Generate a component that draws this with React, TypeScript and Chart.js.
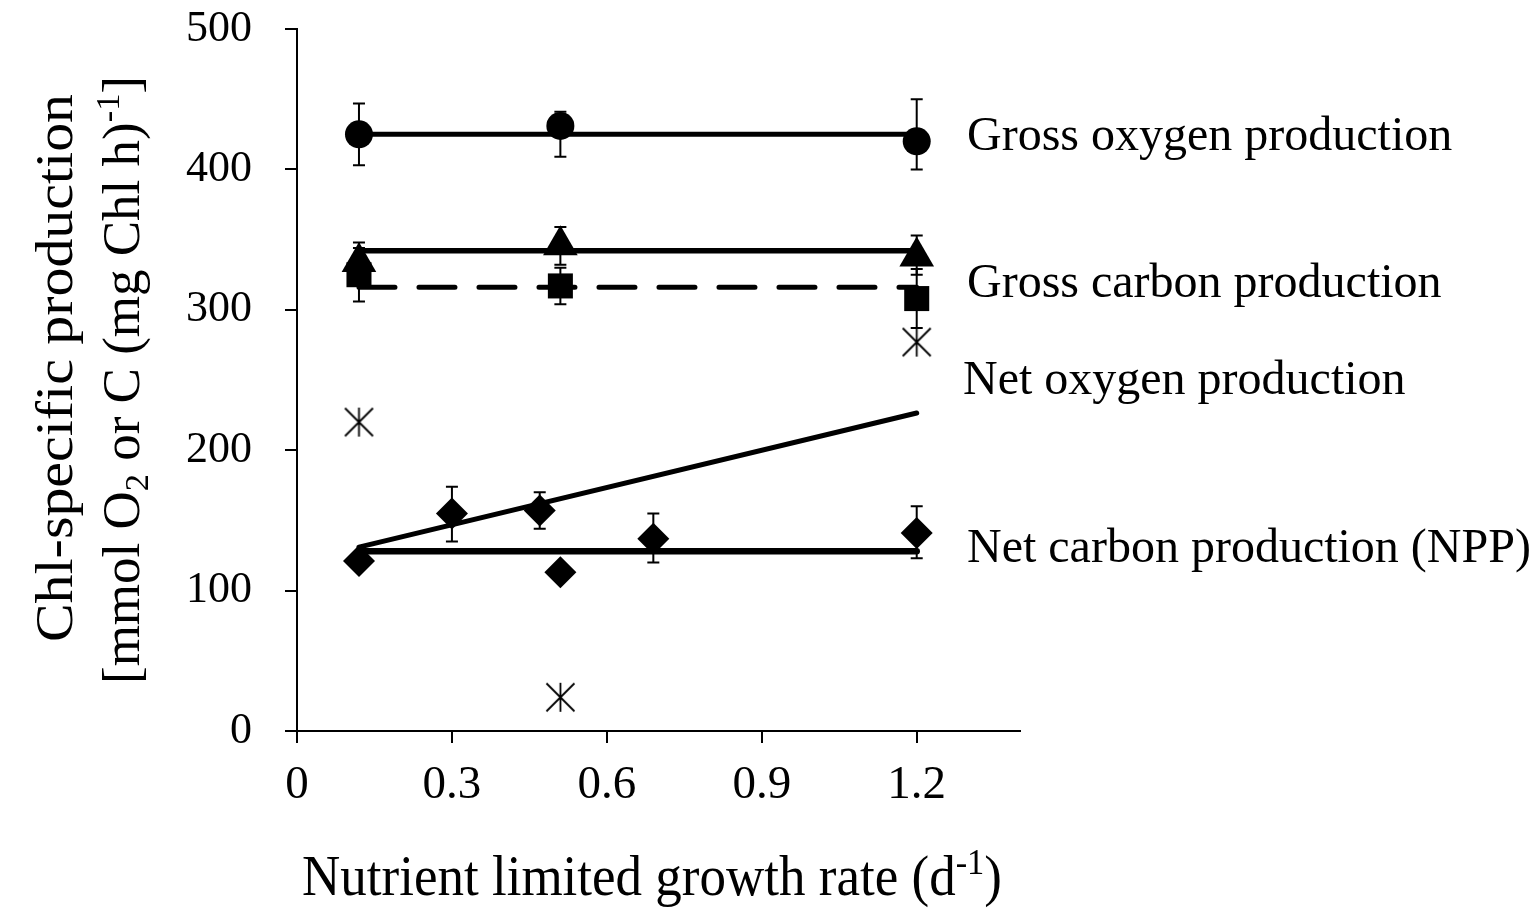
import React, { useEffect, useRef } from 'react';
import { Chart, registerables } from 'chart.js';

Chart.register(...registerables);

// ---------- data ----------
const X_TICKS = [0, 0.3, 0.6, 0.9, 1.2];
const X_TICK_LABELS = ['0', '0.3', '0.6', '0.9', '1.2'];
const Y_TICKS = [0, 100, 200, 300, 400, 500];
const Y_TICK_LABELS = ['0', '100', '200', '300', '400', '500'];

// circles
const GOP_X = [0.12, 0.51, 1.2];
const GOP_Y = [425, 431, 420];
const GOP_LO = [403, 409, 400];
const GOP_HI = [447, 441, 450];

// triangles
const GCP_X = [0.12, 0.51, 1.2];
const GCP_Y = [334, 346, 338];
const GCP_LO = [320, 332, 325];
const GCP_HI = [348, 359, 353];

// squares
const SQ_X = [0.12, 0.51, 1.2];
const SQ_Y = [325, 317, 308];
const SQ_LO = [306, 304, 287];
const SQ_HI = [344, 330, 329];

// asterisks
const AST_X = [0.12, 0.51, 1.2];
const AST_Y = [220, 24, 277];

// diamonds
const NPP_X = [0.12, 0.3, 0.47, 0.51, 0.69, 1.2];
const NPP_Y = [121, 155, 157, 113, 137, 141];
const NPP_LO = [null, 135, 144, null, 120, 123];
const NPP_HI = [null, 174, 170, null, 155, 160];

// fitted lines
const FIT_X = [0.12, 1.2];
const GOP_FIT = [425, 425];
const GCP_FIT = [342, 342];
const SQ_FIT = [316, 316];
const NOP_FIT = [131, 226.5];
const NPP_FIT = [128, 128];

const SERIES_LABELS = [
  'Gross oxygen production',
  'Gross carbon production',
  'Net oxygen production',
  'Net carbon production (NPP)',
];
const X_TITLE = 'Nutrient limited growth rate (d';
const Y_TITLE_1 = 'Chl-specific production';

// ---------- styling ----------
const FAMILY = "'Liberation Serif', 'Times New Roman', serif";
const W = 1537;
const H = 908;
const LABEL_POS: [number, number][] = [
  [967, 150],
  [967, 297],
  [963, 394],
  [967, 562],
];

const pts = (xs: number[], ys: number[]) => xs.map((x, i) => ({ x, y: ys[i] }));

type Run = { t: string; mode?: 'sub' | 'sup' };

function drawRuns(
  ctx: CanvasRenderingContext2D,
  runs: Run[],
  size: number,
  targetLen: number,
) {
  const fontFor = (r: Run) => `${r.mode ? size * 0.65 : size}px ${FAMILY}`;
  let total = 0;
  const widths = runs.map((r) => {
    ctx.font = fontFor(r);
    const w = ctx.measureText(r.t).width;
    total += w;
    return w;
  });
  ctx.scale(targetLen / total, 1);
  let x = -total / 2;
  ctx.textAlign = 'left';
  ctx.textBaseline = 'alphabetic';
  ctx.fillStyle = '#000';
  runs.forEach((r, i) => {
    ctx.font = fontFor(r);
    const dy = r.mode === 'sub' ? size * 0.17 : r.mode === 'sup' ? -size * 0.38 : 0;
    ctx.fillText(r.t, x, dy);
    x += widths[i];
  });
}

export default function App() {
  const ref = useRef<HTMLCanvasElement | null>(null);

  useEffect(() => {
    const canvas = ref.current;
    if (!canvas) return;

    // asterisk marker
    const star = document.createElement('canvas');
    star.width = 31;
    star.height = 31;
    const sc = star.getContext('2d')!;
    sc.strokeStyle = '#000';
    sc.lineWidth = 1.8;
    sc.beginPath();
    sc.moveTo(15.5, 1);
    sc.lineTo(15.5, 30);
    sc.moveTo(1.5, 1.5);
    sc.lineTo(29.5, 29.5);
    sc.moveTo(29.5, 1.5);
    sc.lineTo(1.5, 29.5);
    sc.stroke();

    const errSpecs = [
      { xs: GOP_X, lo: GOP_LO, hi: GOP_HI },
      { xs: GCP_X, lo: GCP_LO, hi: GCP_HI },
      { xs: SQ_X, lo: SQ_LO, hi: SQ_HI },
      { xs: NPP_X, lo: NPP_LO, hi: NPP_HI },
    ];

    const errorBars = {
      id: 'errorBars',
      beforeDatasetsDraw(chart: any) {
        const { ctx } = chart;
        const xs = chart.scales.x;
        const ys = chart.scales.y;
        ctx.save();
        ctx.strokeStyle = '#000';
        ctx.lineWidth = 2;
        errSpecs.forEach((s) => {
          s.xs.forEach((xv, i) => {
            const lo = s.lo[i];
            const hi = s.hi[i];
            if (lo == null || hi == null) return;
            const px = xs.getPixelForValue(xv);
            const p1 = ys.getPixelForValue(lo);
            const p2 = ys.getPixelForValue(hi);
            ctx.beginPath();
            ctx.moveTo(px, p1);
            ctx.lineTo(px, p2);
            ctx.moveTo(px - 6, p1);
            ctx.lineTo(px + 6, p1);
            ctx.moveTo(px - 6, p2);
            ctx.lineTo(px + 6, p2);
            ctx.stroke();
          });
        });
        ctx.restore();
      },
    };

    const texts = {
      id: 'texts',
      afterDraw(chart: any) {
        const { ctx } = chart;
        ctx.save();
        ctx.fillStyle = '#000';
        ctx.font = `48px ${FAMILY}`;
        ctx.textAlign = 'left';
        ctx.textBaseline = 'alphabetic';
        SERIES_LABELS.forEach((t, i) => {
          ctx.fillText(t, LABEL_POS[i][0], LABEL_POS[i][1]);
        });
        ctx.restore();

        // x title
        ctx.save();
        ctx.translate(652, 895);
        drawRuns(ctx, [{ t: X_TITLE }, { t: '-1', mode: 'sup' }, { t: ')' }], 56, 700);
        ctx.restore();

        // y title line 1
        ctx.save();
        ctx.translate(72, 368);
        ctx.rotate(-Math.PI / 2);
        drawRuns(ctx, [{ t: Y_TITLE_1 }], 52, 548);
        ctx.restore();

        // y title line 2
        ctx.save();
        ctx.translate(139, 380);
        ctx.rotate(-Math.PI / 2);
        drawRuns(
          ctx,
          [
            { t: '[mmol O' },
            { t: '2', mode: 'sub' },
            { t: ' or C (mg Chl h)' },
            { t: '-1', mode: 'sup' },
            { t: ']' },
          ],
          52,
          608,
        );
        ctx.restore();
      },
    };

    const lineDs = (data: number[], width: number, dash: number[] = []) => ({
      type: 'line' as const,
      data: pts(FIT_X, data),
      borderColor: '#000',
      borderWidth: width,
      borderDash: dash,
      borderCapStyle: 'round' as const,
      pointRadius: 0,
      showLine: true,
      fill: false,
      order: 2,
    });

    const markerDs = (xs: number[], ys: number[], style: any, radius: number) => ({
      type: 'scatter' as const,
      data: pts(xs, ys),
      pointStyle: style,
      pointRadius: radius,
      backgroundColor: '#000',
      borderColor: '#000',
      borderWidth: 0,
      showLine: false,
      order: 1,
    });

    const chart = new Chart(canvas, {
      type: 'scatter',
      data: {
        datasets: [
          lineDs(GOP_FIT, 5),
          lineDs(GCP_FIT, 5.5),
          lineDs(SQ_FIT, 5, [36, 24]),
          lineDs(NOP_FIT, 5),
          lineDs(NPP_FIT, 6.5),
          markerDs(GOP_X, GOP_Y, 'circle', 14),
          markerDs(GCP_X, GCP_Y, 'triangle', 20),
          markerDs(SQ_X, SQ_Y, 'rect', 17.7),
          markerDs(NPP_X, NPP_Y, 'rectRot', 16),
          { ...markerDs(AST_X, AST_Y, star, 15), backgroundColor: 'transparent' },
        ] as any,
      },
      options: {
        animation: false,
        responsive: false,
        maintainAspectRatio: false,
        layout: { padding: { top: 29, right: 517, left: 0, bottom: 0 } },
        plugins: {
          legend: { display: false },
          tooltip: { enabled: false },
        },
        scales: {
          x: {
            type: 'linear',
            min: 0,
            max: 1.4,
            afterBuildTicks: (s: any) => {
              s.ticks = X_TICKS.map((v) => ({ value: v }));
            },
            afterFit: (s: any) => {
              s.height = 177;
              s.paddingLeft = 0;
              s.paddingRight = 0;
            },
            border: { display: true, color: '#000', width: 2 },
            grid: {
              display: true,
              drawOnChartArea: false,
              drawTicks: true,
              tickLength: 12,
              color: '#000',
              lineWidth: 2,
            },
            ticks: {
              color: '#000',
              font: { family: FAMILY, size: 47 },
              padding: 14,
              maxRotation: 0,
              autoSkip: false,
              callback: (v: any) => X_TICK_LABELS[X_TICKS.indexOf(Number(v))] ?? '',
            },
            title: { display: false },
          },
          y: {
            type: 'linear',
            min: 0,
            max: 500,
            afterBuildTicks: (s: any) => {
              s.ticks = Y_TICKS.map((v) => ({ value: v }));
            },
            afterFit: (s: any) => {
              s.width = 297;
              s.paddingTop = 0;
              s.paddingBottom = 0;
            },
            border: { display: true, color: '#000', width: 2 },
            grid: {
              display: true,
              drawOnChartArea: false,
              drawTicks: true,
              tickLength: 12,
              color: '#000',
              lineWidth: 2,
            },
            ticks: {
              color: '#000',
              font: { family: FAMILY, size: 44 },
              padding: 33,
              autoSkip: false,
              callback: (v: any) => Y_TICK_LABELS[Y_TICKS.indexOf(Number(v))] ?? '',
            },
            title: { display: false },
          },
        },
      },
      plugins: [errorBars, texts],
    });

    return () => chart.destroy();
  }, []);

  return (
    <div style={{ position: 'fixed', left: 0, top: 0, width: W, height: H, background: '#fff' }}>
      <canvas ref={ref} width={W} height={H} style={{ display: 'block' }} />
    </div>
  );
}
